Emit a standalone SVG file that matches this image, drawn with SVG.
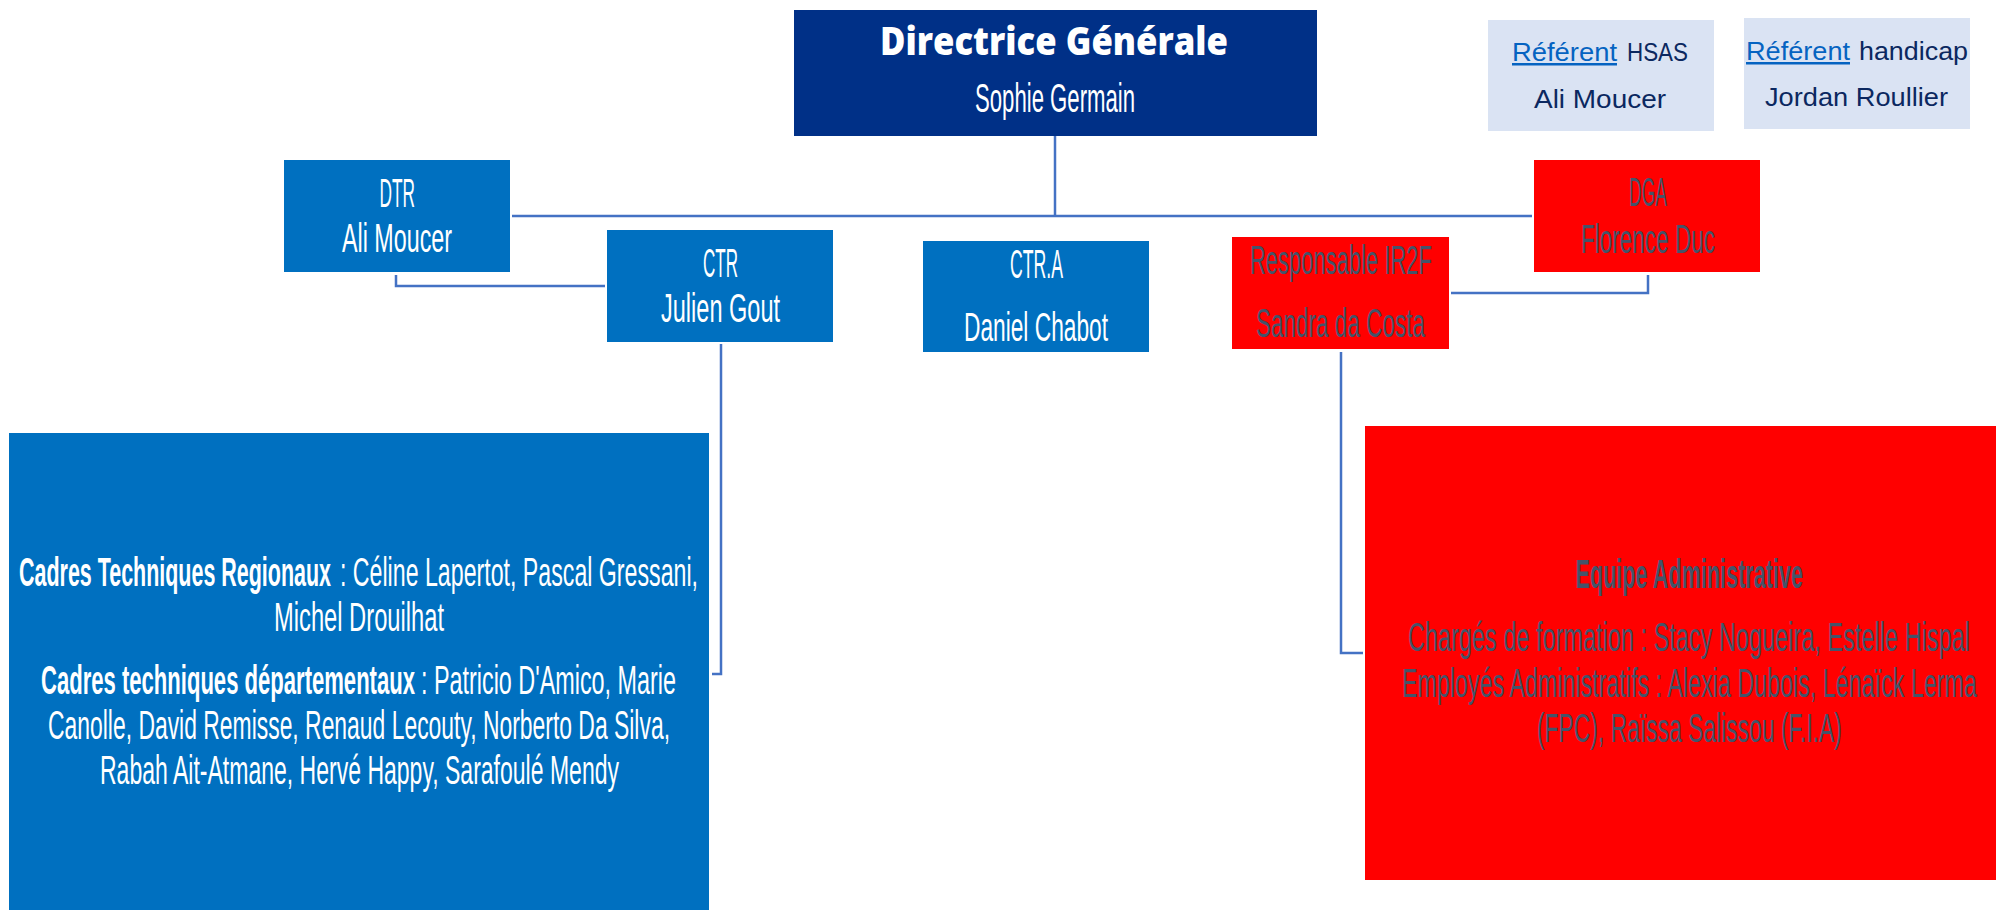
<svg xmlns="http://www.w3.org/2000/svg" width="1996" height="910" viewBox="0 0 1996 910">
<style>
.bg{fill:#ffffff}
.navy{fill:#003087}
.blue{fill:#0070c0}
.red{fill:#ff0000}
.ref{fill:#dae3f3}
.c{font-family:"Liberation Sans Narrow","Liberation Sans",Arial,sans-serif;font-size:40px}
.w{fill:#ffffff}
.g{fill:#44546a}
.b{font-weight:bold}
.t{font-family:"Open Sans","Liberation Sans",Arial,sans-serif;font-size:38px;font-weight:800;fill:#ffffff}
.r{font-family:"Liberation Sans",Arial,sans-serif;font-size:25px;fill:#0b2860}
.lk{fill:#0563c1}
.conn{fill:none;stroke:#4472c4;stroke-width:2.5}
</style>
<rect class="bg" x="0" y="0" width="1996" height="910"/>
<g id="connectors">
<path class="conn" d="M1055 136 V216"/>
<path class="conn" d="M512 216 H1532"/>
<path class="conn" d="M396 275 V286 H605"/>
<path class="conn" d="M721 344 V674 H712"/>
<path class="conn" d="M1451 293 H1648 V275"/>
<path class="conn" d="M1341 352 V653 H1363"/>
</g>
<g id="directrice">
<rect class="navy" x="794" y="10" width="523" height="126"/>
<text class="t" x="880" y="55" textLength="348" lengthAdjust="spacingAndGlyphs">Directrice Générale</text>
<text class="c w" x="975" y="112" textLength="160" lengthAdjust="spacingAndGlyphs">Sophie Germain</text>
</g>
<g id="referent-hsas">
<rect class="ref" x="1488" y="20" width="226" height="111"/>
<text class="r" x="1512" y="61"><tspan class="lk" textLength="105" lengthAdjust="spacingAndGlyphs" text-decoration="underline">Référent</tspan><tspan x="1627" textLength="61" lengthAdjust="spacingAndGlyphs">HSAS</tspan></text>
<text class="r" x="1534" y="108" textLength="132" lengthAdjust="spacingAndGlyphs">Ali Moucer</text>
</g>
<g id="referent-handicap">
<rect class="ref" x="1744" y="18" width="226" height="111"/>
<text class="r" x="1746" y="60"><tspan class="lk" textLength="104" lengthAdjust="spacingAndGlyphs" text-decoration="underline">Référent</tspan><tspan x="1859" textLength="109" lengthAdjust="spacingAndGlyphs">handicap</tspan></text>
<text class="r" x="1765" y="106" textLength="183" lengthAdjust="spacingAndGlyphs">Jordan Roullier</text>
</g>
<g id="dtr">
<rect class="blue" x="284" y="160" width="226" height="112"/>
<text class="c w" x="379.5" y="207" textLength="35.5" lengthAdjust="spacingAndGlyphs">DTR</text>
<text class="c w" x="342" y="252" textLength="110" lengthAdjust="spacingAndGlyphs">Ali Moucer</text>
</g>
<g id="ctr">
<rect class="blue" x="607" y="230" width="226" height="112"/>
<text class="c w" x="703" y="277" textLength="35" lengthAdjust="spacingAndGlyphs">CTR</text>
<text class="c w" x="661" y="322" textLength="119" lengthAdjust="spacingAndGlyphs">Julien Gout</text>
</g>
<g id="ctra">
<rect class="blue" x="923" y="241" width="226" height="111"/>
<text class="c w" x="1010" y="278" textLength="53" lengthAdjust="spacingAndGlyphs">CTR.A</text>
<text class="c w" x="964" y="341" textLength="144" lengthAdjust="spacingAndGlyphs">Daniel Chabot</text>
</g>
<g id="responsable-ir2f">
<rect class="red" x="1232" y="237" width="217" height="112"/>
<text class="c g" x="1250" y="274" textLength="182" lengthAdjust="spacingAndGlyphs">Responsable IR2F</text>
<text class="c g" x="1256" y="337" textLength="169" lengthAdjust="spacingAndGlyphs">Sandra da Costa</text>
</g>
<g id="dga">
<rect class="red" x="1534" y="160" width="226" height="112"/>
<text class="c g" x="1629" y="206" textLength="38" lengthAdjust="spacingAndGlyphs">DGA</text>
<text class="c g" x="1581" y="253" textLength="134" lengthAdjust="spacingAndGlyphs">Florence Duc</text>
</g>
<g id="cadres-techniques">
<rect class="blue" x="9" y="433" width="700" height="477"/>
<text class="c w" transform="translate(19,586) scale(0.45,1)" x="0" y="0"><tspan class="b" textLength="693.3" lengthAdjust="spacingAndGlyphs">Cadres Techniques Regionaux</tspan><tspan x="713.3" textLength="795.6" lengthAdjust="spacingAndGlyphs">: Céline Lapertot, Pascal Gressani,</tspan></text>
<text class="c w" x="274" y="631" textLength="170" lengthAdjust="spacingAndGlyphs">Michel Drouilhat</text>
<text class="c w" transform="translate(41,694) scale(0.45,1)" x="0" y="0"><tspan class="b" textLength="831.1" lengthAdjust="spacingAndGlyphs">Cadres techniques départementaux</tspan><tspan x="844.4" textLength="566.7" lengthAdjust="spacingAndGlyphs">: Patricio D'Amico, Marie</tspan></text>
<text class="c w" x="48" y="739" textLength="622" lengthAdjust="spacingAndGlyphs">Canolle, David Remisse, Renaud Lecouty, Norberto Da Silva,</text>
<text class="c w" x="100" y="784" textLength="519" lengthAdjust="spacingAndGlyphs">Rabah Ait-Atmane, Hervé Happy, Sarafoulé Mendy</text>
</g>
<g id="equipe-administrative">
<rect class="red" x="1365" y="426" width="631" height="454"/>
<text class="c g b" x="1575.5" y="588" textLength="227.6" lengthAdjust="spacingAndGlyphs">Equipe Administrative</text>
<text class="c g" transform="translate(1408,651) scale(0.6,1)" x="0" y="0" textLength="936.7" lengthAdjust="spacingAndGlyphs">Chargés de formation : Stacy Nogueira, Estelle Hispal</text>
<text class="c g" transform="translate(1402,697) scale(0.6,1)" x="0" y="0" textLength="958.3" lengthAdjust="spacingAndGlyphs">Employés Administratifs : Alexia Dubois, Lénaïck Lerma</text>
<text class="c g" transform="translate(1537,742) scale(0.6,1)" x="0" y="0" textLength="508.3" lengthAdjust="spacingAndGlyphs">(FPC), Raïssa Salissou (F.I.A)</text>
</g>
</svg>
